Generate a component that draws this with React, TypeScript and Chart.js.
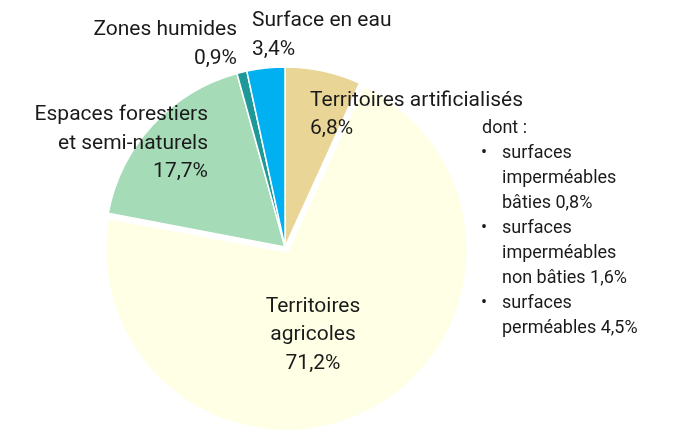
import React, { useEffect, useRef } from 'react';
import { Chart, registerables } from 'chart.js';

Chart.register(...registerables);

// ---- Data ----
const CATEGORIES: string[][] = [
  ['Territoires artificialisés'],
  ['Territoires', 'agricoles'],
  ['Espaces forestiers', 'et semi-naturels'],
  ['Zones humides'],
  ['Surface en eau'],
];
const SHARES = [6.8, 71.2, 17.7, 0.9, 3.4];
const COLORS = ['#E9D596', '#FFFFE5', '#A6DBB8', '#1E9898', '#00B0F0'];

const DETAIL_TITLE = 'dont :';
const DETAIL_LINES: string[][] = [
  ['surfaces', 'imperméables', 'bâties'],
  ['surfaces', 'imperméables', 'non bâties'],
  ['surfaces', 'perméables'],
];
const DETAIL_SHARES = [0.8, 1.6, 4.5];

// ---- Layout / style (not data) ----
const W = 674;
const H = 430;
const TEXT_COLOR = '#1a1a1a';
const FONT = 'Roboto';
const LABEL_SIZE = 21;
const LABEL_LINE_H = 28.5;
const DETAIL_SIZE = 18;
const DETAIL_LINE_H = 25;
const LABEL_LAYOUT: { x: number; y: number; align: CanvasTextAlign }[] = [
  { x: 310, y: 105.5, align: 'left' },
  { x: 313, y: 311.5, align: 'center' },
  { x: 208, y: 120, align: 'right' },
  { x: 237, y: 35, align: 'right' },
  { x: 252, y: 26, align: 'left' },
];
const DETAIL_LAYOUT = { x: 482, y: 132.5, bulletX: 484, textX: 502 };

const pct = (v: number) => `${v.toFixed(1).replace('.', ',')}%`;

const labelPlugin = {
  id: 'sliceLabels',
  afterDraw(chart: any) {
    const ctx: CanvasRenderingContext2D = chart.ctx;
    ctx.save();
    ctx.fillStyle = TEXT_COLOR;
    ctx.textBaseline = 'alphabetic';
    ctx.font = `${LABEL_SIZE}px ${FONT}`;
    const labels = chart.data.labels as string[][];
    const values = chart.data.datasets[0].data as number[];
    labels.forEach((lines, i) => {
      const pos = LABEL_LAYOUT[i];
      const all = [...lines, pct(values[i])];
      ctx.textAlign = pos.align;
      all.forEach((t, k) => ctx.fillText(t, pos.x, pos.y + k * LABEL_LINE_H));
    });

    ctx.font = `${DETAIL_SIZE}px ${FONT}`;
    ctx.textAlign = 'left';
    let y = DETAIL_LAYOUT.y;
    ctx.fillText(DETAIL_TITLE, DETAIL_LAYOUT.x, y);
    DETAIL_LINES.forEach((lines, i) => {
      lines.forEach((t, k) => {
        y += DETAIL_LINE_H;
        if (k === 0) {
          ctx.textAlign = 'center';
          ctx.fillText('•', DETAIL_LAYOUT.bulletX, y);
          ctx.textAlign = 'left';
        }
        const txt = k === lines.length - 1 ? `${t} ${pct(DETAIL_SHARES[i])}` : t;
        ctx.fillText(txt, DETAIL_LAYOUT.textX, y);
      });
    });
    ctx.restore();
  },
};

export default function App() {
  const ref = useRef<HTMLCanvasElement | null>(null);

  useEffect(() => {
    let chart: Chart | null = null;
    let cancelled = false;
    const build = () => {
      if (cancelled || !ref.current) return;
      chart = new Chart(ref.current, {
        type: 'pie',
        data: {
          labels: CATEGORIES,
          datasets: [
            {
              data: SHARES,
              backgroundColor: COLORS,
              borderColor: '#ffffff',
              borderWidth: [1.5, 6, 1.5, 1.5, 1.5],
              offset: [0, 12, 0, 0, 0],
              radius: 180,
              clip: false,
            } as any,
          ],
        },
        options: {
          responsive: false,
          animation: false,
          events: [],
          layout: { padding: { top: 64, bottom: 0, left: 0, right: 104 } },
          plugins: {
            legend: { display: false },
            tooltip: { enabled: false },
          },
        },
        plugins: [labelPlugin],
      });
    };
    const fonts = (document as any).fonts;
    if (fonts && fonts.load) {
      Promise.all([fonts.load(`${LABEL_SIZE}px ${FONT}`), fonts.load(`${DETAIL_SIZE}px ${FONT}`)])
        .catch(() => null)
        .then(build);
    } else {
      build();
    }
    return () => {
      cancelled = true;
      if (chart) chart.destroy();
    };
  }, []);

  return (
    <div style={{ position: 'fixed', left: 0, top: 0, width: W, height: H, background: '#fff' }}>
      <canvas ref={ref} width={W} height={H} style={{ width: W, height: H, display: 'block' }} />
    </div>
  );
}
